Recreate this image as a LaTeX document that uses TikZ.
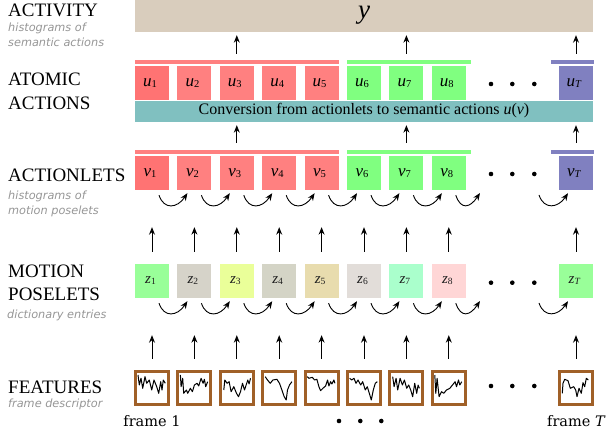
\documentclass[tikz,border=0pt]{standalone}
\usepackage{fontspec}
\setmainfont{Liberation Serif}
\newfontfamily\capfont{DejaVu Sans}
\newfontfamily\framefont{DejaVu Serif}
\usetikzlibrary{arrows.meta,calc}
\definecolor{actcol}{RGB}{217,205,189}
\definecolor{redA}{RGB}{255,115,115}
\definecolor{redB}{RGB}{255,128,128}
\definecolor{grn}{RGB}{128,255,128}
\definecolor{pur}{RGB}{128,128,192}
\definecolor{teal2}{RGB}{128,192,192}
\definecolor{brn}{RGB}{160,96,40}
\definecolor{capgray}{RGB}{150,150,150}
\definecolor{zA}{RGB}{153,255,153}
\definecolor{zB}{RGB}{214,211,201}
\definecolor{zC}{RGB}{234,255,153}
\definecolor{zD}{RGB}{212,212,198}
\definecolor{zE}{RGB}{232,220,174}
\definecolor{zF}{RGB}{226,221,217}
\definecolor{zG}{RGB}{170,255,204}
\definecolor{zH}{RGB}{255,214,214}
\definecolor{ztxt}{RGB}{30,30,30}
\newcommand\subl[2]{\textit{#1}\raisebox{-1pt}{\fontsize{10.5}{10.5}\selectfont #2}}
\newcommand\subz[2]{\textit{#1}\raisebox{-1pt}{\fontsize{9.5}{9.5}\selectfont #2}}
\tikzset{
  ubox/.style={rectangle, minimum width=34pt, minimum height=34pt, inner sep=0pt,
    text height=8pt, text depth=1pt, font=\fontsize{17}{17}\selectfont},
  zbox/.style={rectangle, minimum width=34pt, minimum height=34pt, inner sep=0pt,
    text height=7pt, text depth=2pt, text=ztxt, font=\fontsize{15}{15}\selectfont},
  fbox/.style={rectangle, draw=brn, line width=3pt, fill=white, minimum size=33pt, inner sep=0pt},
  bar/.style={rectangle, inner sep=0pt, minimum height=4pt},
  arr/.style={-{Stealth[length=7.5pt,width=6pt]}, line width=0.9pt},
  biglabel/.style={anchor=base west, inner sep=0pt, font=\fontsize{19}{19}\selectfont},
  caption/.style={anchor=base west, inner sep=0pt, text=capgray, font=\capfont\itshape\fontsize{11.3}{11.3}\selectfont},
  squig/.style={line width=1pt, line join=round},
  framelbl/.style={anchor=base west, inner sep=0pt, font=\framefont\fontsize{14.5}{14.5}\selectfont},
}
\begin{document}
\begin{tikzpicture}[x=1pt,y=-1pt]
\useasboundingbox (0,0) rectangle (606,435);
% left labels
\node[biglabel] (lact) at (8,16.7) {ACTIVITY};
\node[caption] (cact1) at (8,32) {histograms of};
\node[caption] (cact2) at (8,47) {semantic actions};
\node[biglabel] (latom1) at (8,86) {ATOMIC};
\node[biglabel] (latom2) at (8,109.3) {ACTIONS};
\node[biglabel] (llets) at (8,181.7) {ACTIONLETS};
\node[caption] (clets1) at (8,199.5) {histograms of};
\node[caption] (clets2) at (8,214.5) {motion poselets};
\node[biglabel] (lmot1) at (8,277.3) {MOTION};
\node[biglabel] (lmot2) at (8,301) {POSELETS};
\node[caption] (cmot) at (7,318.5) {dictionary entries};
\node[biglabel] (lfeat) at (8,394) {FEATURES};
\node[caption] (cfeat) at (8,408) {frame descriptor};
% activity
\node[rectangle, fill=actcol, minimum width=458pt, minimum height=32pt, inner sep=0pt,
  text height=13pt, text depth=7pt, font=\fontsize{27}{27}\selectfont] (act) at (364,16) {\textit{y}};
% bars
\node[bar, fill=redB, minimum width=204pt] (ubarR) at (237,62) {};
\node[bar, fill=grn, minimum width=124pt] (ubarG) at (409,62) {};
\node[bar, fill=pur, minimum width=43pt] (ubarP) at (572.5,62) {};
\node[bar, fill=redB, minimum width=204pt] (vbarR) at (237,152) {};
\node[bar, fill=grn, minimum width=124pt] (vbarG) at (409,152) {};
\node[bar, fill=pur, minimum width=43pt] (vbarP) at (572.5,152) {};
% conversion band
\node[rectangle, fill=teal2, minimum width=458pt, minimum height=21pt, inner sep=0pt,
  text height=11pt, text depth=4pt, font=\fontsize{16}{16}\selectfont] (conv) at (364,111.5)
  {Conversion from actionlets to semantic actions \textit{u}(\textit{v})};
% u and v boxes
\foreach \i/\x/\c in {1/152/redA,2/194.4/redB,3/236.8/redB,4/279.2/redB,5/321.6/redB,6/364/grn,7/406.4/grn,8/448.8/grn}{
  \node[ubox, fill=\c] (u\i) at (\x,83) {\subl{u}{\i}\kern4pt};
  \node[ubox, fill=\c] (v\i) at (\x,173) {\subl{v}{\i}\kern4pt};
}
\node[ubox, fill=pur] (uT) at (576,83) {\subl{u}{\textit{T}}\kern4pt};
\node[ubox, fill=pur] (vT) at (576,173) {\subl{v}{\textit{T}}\kern4pt};
% z boxes
\foreach \i/\x/\c in {1/152/zA,2/194.4/zB,3/236.8/zC,4/279.2/zD,5/321.6/zE,6/364/zF,7/406.4/zG,8/448.8/zH}{
  \node[zbox, fill=\c] (z\i) at (\x,281) {\subz{z}{\i}\kern3pt};
  \node[fbox] (f\i) at (\x,388) {};
}
\node[zbox, fill=zA] (zT) at (576,281) {\subz{z}{\textit{T}}\kern3pt};
\node[fbox] (fT) at (576,388) {};
% squiggles
\draw[squig, shift={(f1.center)}] plot coordinates {(-14,-13) (-12.7,-3) (-11,-9.7) (-9.3,0.3) (-7,-11.3) (-5.3,-4.7) (-2.7,-8) (-0.3,2) (2,-8) (4.7,-1.3) (6.7,5.3) (8.7,-6.3) (10,2) (11.3,-8) (13.3,-4.7)};
\draw[squig, shift={(f2.center)}] plot coordinates {(-14,-13) (-13.3,-1.3) (-11.7,-9.7) (-10.7,5.3) (-8,2) (-6.7,5.3) (-4,0.3) (-2,3.7) (0,-3) (2.7,-4.7) (4.3,-2) (6.7,-9.7) (8.7,-4.7) (10,-8.7) (11.3,-1.3) (13.3,-6.3)};
\draw[squig, shift={(f3.center)}] plot coordinates {(-13,2) (-12,-8) (-9.7,-4.7) (-7.7,-6.3) (-5.7,3.7) (-3,-1.3) (-0.3,5.3) (1.7,8.7) (3.7,3.7) (5.7,-4.7) (7.7,2) (9,-2) (11,-8) (12.3,-4) (13.7,-9.7)};
\draw[squig, shift={(f4.center)}] plot coordinates {(-14,-11.3) (-11.7,-8) (-9,-4.7) (-6.3,-8) (-2.3,-8.7) (0.3,-4.7) (2.7,2) (5,8.7) (7,12) (8.3,2) (10.3,-3) (12.7,-6.3)};
\draw[squig, shift={(f5.center)}] plot coordinates {(-14.3,-11.3) (-12.7,-9.7) (-9.3,-10.7) (-7,-8) (-4.7,-8.7) (-2.7,-1.3) (-1,2.7) (1.3,0.3) (4,-2) (6,-8) (7.3,-2) (9,-6.3) (10.3,-4) (12.3,-8) (13.3,-4.7)};
\draw[squig, shift={(f6.center)}] plot coordinates {(-14.3,-9.7) (-12.3,-8) (-10,-9.7) (-8,-4.7) (-6,-8) (-3.3,-3) (-1.3,-6.3) (1.3,2) (3.3,-1.3) (5.3,5.3) (7.3,12) (9.3,2) (11.3,-4.7) (13.3,-6.3)};
\draw[squig, shift={(f7.center)}] plot coordinates {(-13.7,-11.3) (-12.3,-1.3) (-10.3,-9.7) (-8.7,2) (-6.3,-9.7) (-4,-3) (-2,-8) (0.3,0.3) (2.3,-3) (4.3,2) (6.3,8.7) (8.3,-4.7) (10.3,5.3) (11.7,-3) (13,0.3)};
\draw[squig, shift={(f8.center)}] plot coordinates {(-14,-13) (-13,5.3) (-11.7,-9.7) (-9.7,8.7) (-7.3,3.7) (-5,5.3) (-2.3,2) (1,0.3) (3.7,-3) (6.3,-6.3) (7.7,-1.3) (9.7,-8) (11,-3) (13,-6.3)};
\draw[squig, shift={(fT.center)}] plot coordinates {(-13.7,5.3) (-13,-4.7) (-11.3,-8.7) (-8,-7.3) (-5.7,0.3) (-2.3,-1.3) (-0.3,2) (1,8.7) (3,0.3) (5.3,5.3) (7,-5.3) (8.7,-1.3) (10.3,-9.7) (12.3,-8)};
% vertical arrows
\foreach \i in {3,7,T}{
  \draw[arr] ($(u\i.north)+(0,-12)$) -- ($(u\i |- act.south)+(0,3)$);
  \draw[arr] ($(v\i.north)+(0,-13)$) -- ($(v\i |- conv.south)+(0,3)$);
}
\foreach \i in {1,2,3,4,5,6,7,8,T}{
  \draw[arr] ($(z\i.north)+(0,-12)$) -- ($(v\i.south)+(0,37)$);
  \draw[arr] ($(f\i.north)+(0,-11)$) -- ($(z\i.south)+(0,37)$);
}
% curved arrows
\coordinate (vd1) at (480,193);
\coordinate (vd2) at (539,195);
\coordinate (zd1) at (480,301);
\coordinate (zd2) at (539,303);
\foreach \a/\b in {1/2,2/3,3/4,4/5,5/6,6/7,7/8}{
  \draw[arr] ($(v\a.south)+(7,5)$) .. controls +(5,15) and +(-10,15) .. ($(v\b.south)+(-7,3)$);
  \draw[arr] ($(z\a.south)+(7,5)$) .. controls +(5,15) and +(-10,15) .. ($(z\b.south)+(-7,3)$);
}
\draw[arr] ($(v8.south)+(7,5)$) .. controls +(5,15) and +(-10,15) .. (vd1);
\draw[arr] (vd2) .. controls +(5,15) and +(-10,15) .. ($(vT.south)+(-8,3)$);
\draw[arr] ($(z8.south)+(7,5)$) .. controls +(5,15) and +(-10,15) .. (zd1);
\draw[arr] (zd2) .. controls +(5,15) and +(-10,15) .. ($(zT.south)+(-8,3)$);
% dots
\foreach \y in {84,174,282.7,386}{
  \foreach \x in {491,512.3,534.3}{ \fill (\x,\y) circle (2.3pt); }
}
\foreach \x in {339,360.3,381.3}{ \fill (\x,421) circle (2.3pt); }
% frame labels
\node[framelbl, anchor=base] (fr1) at (152,426.5) {frame 1};
\node[framelbl] (frT) at (547,426.5) {frame {\itshape T}};
\end{tikzpicture}
\end{document}
